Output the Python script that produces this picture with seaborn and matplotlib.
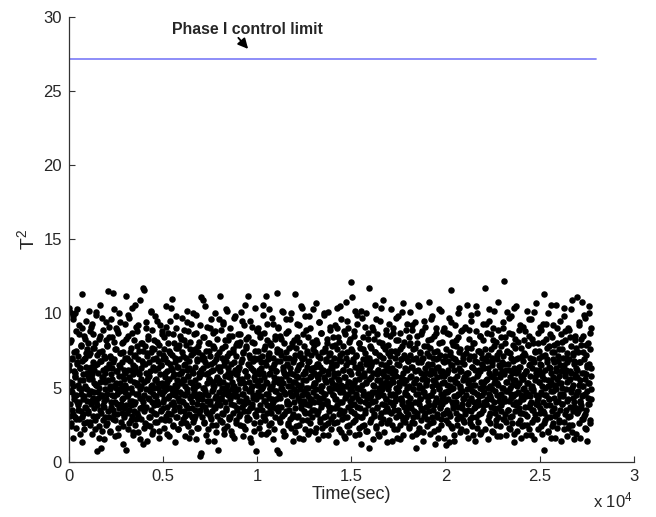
import numpy as np
import pandas as pd
import matplotlib
matplotlib.use("Agg")
import matplotlib.pyplot as plt
import seaborn as sns

# T^2 statistic, in time order
# (two interleaved sample streams over the same time span)
t2_stream_a = [
    10.4, 6.2, 3.1, 10.1, 5.4, 8.2, 2.6, 4.7, 6.9, 3.5, 9.8, 5.1, 1.6, 7.4, 4.2, 6.0, 3.0, 5.7, 8.8, 4.5, 2.3, 6.6, 10.3, 3.8, 5.2, 7.1, 4.0, 9.2, 2.9, 6.3, 5.5, 3.4, 7.8, 4.9, 11.3, 1.3, 6.8, 3.2, 5.9, 8.5, 4.4, 2.2, 7.0, 5.0, 3.7, 9.5, 6.4, 4.1, 2.7, 7.6,
    5.8, 3.3, 8.0, 4.6, 10.2, 6.1, 2.5, 7.3, 4.8, 3.9, 9.1, 5.6, 1.9, 6.7, 4.3, 8.6, 3.6, 5.3, 7.7, 2.8, 6.5, 4.0, 9.9, 5.2, 3.1, 0.7, 7.2, 4.7, 6.0, 2.4, 8.3, 5.0, 3.5, 10.6, 6.8, 0.9, 4.4, 7.5, 2.1, 5.7, 3.8, 8.9, 6.2, 4.1, 1.5, 7.0, 5.4, 3.0, 9.4, 6.3,
    4.2, 7.9, 2.6, 11.5, 5.5, 3.4, 8.4, 6.6, 4.9, 2.0, 7.1, 5.9, 3.7, 9.6, 4.5, 6.3, 11.4, 2.9, 5.1, 8.1, 3.2, 6.9, 4.0, 1.7, 7.6, 5.3, 9.0, 3.9, 6.1, 4.6, 2.3, 8.7, 5.8, 3.6, 10.0, 6.4, 4.8, 7.3, 2.7, 5.0, 3.3, 8.0, 6.7, 4.3, 1.2, 7.4, 5.6, 3.0, 9.3, 6.0,
    5.2, 0.8, 11.2, 3.8, 7.0, 4.4, 2.2, 8.5, 6.2, 3.5, 5.7, 9.7, 4.1, 6.8, 2.8, 7.7, 5.0, 3.1, 10.4, 4.7, 6.5, 1.8, 8.2, 5.4, 3.9, 7.2, 4.0, 2.5, 9.1, 6.1, 5.3, 3.3, 8.8, 4.6, 6.9, 2.0, 5.9, 7.5, 3.6, 4.9, 10.9, 6.3, 2.9, 5.1, 8.0, 4.2, 11.7, 1.2, 6.6, 3.4,
    11.6, 4.5, 7.8, 2.6, 6.0, 3.7, 9.4, 5.5, 1.4, 7.1, 4.3, 8.3, 3.0, 5.8, 6.7, 2.4, 4.8, 10.1, 3.5, 7.4, 5.2, 4.0, 8.9, 6.4, 2.1, 5.0, 3.8, 7.6, 4.4, 9.8, 6.2, 3.2, 5.6, 2.7, 8.1, 4.1, 6.8, 3.9, 5.3, 7.3, 1.6, 4.7, 9.2, 5.9, 3.4, 6.5, 2.9, 8.6, 4.6, 5.1,
    3.6, 6.9, 4.2, 8.4, 2.3, 5.7, 7.0, 3.1, 10.5, 4.9, 6.1, 1.9, 5.4, 8.7, 3.3, 7.5, 4.4, 2.8, 6.6, 5.0, 9.5, 3.9, 6.3, 4.6, 11.0, 7.2, 2.5, 5.8, 4.0, 8.0, 3.5, 6.7, 5.2, 1.3, 7.7, 4.8, 9.0, 3.0, 5.5, 6.4, 2.2, 4.3, 7.9, 5.9, 3.7, 8.5, 4.7, 6.0, 2.6, 5.3,
    7.4, 4.1, 9.7, 5.6, 2.9, 6.5, 3.4, 8.2, 4.5, 5.1, 1.7, 7.0, 3.8, 10.2, 6.2, 4.9, 2.4, 5.8, 8.8, 3.2, 6.8, 4.3, 7.6, 5.4, 2.0, 9.3, 4.0, 6.1, 3.6, 5.0, 7.3, 2.7, 8.6, 4.7, 6.4, 3.1, 5.5, 9.9, 4.4, 1.5, 6.9, 3.9, 7.8, 5.2, 2.3, 4.6, 8.1, 6.0, 0.4, 3.5,
    0.6, 11.1, 5.9, 3.0, 7.2, 4.2, 10.9, 6.3, 2.6, 5.0, 8.4, 3.7, 6.7, 4.8, 1.8, 7.5, 5.3, 9.1, 3.3, 6.0, 4.5, 2.2, 8.0, 5.6, 3.9, 7.1, 4.1, 9.6, 6.6, 2.9, 5.4, 3.4, 8.7, 4.9, 6.2, 1.4, 7.7, 5.1, 3.6, 10.0, 4.4, 6.9, 2.5, 5.7, 8.3, 3.1, 0.8, 6.4, 4.7, 7.4,
    5.5, 3.8, 11.2, 6.1, 4.3, 8.9, 2.7, 7.0, 5.0, 3.2, 9.4, 4.6, 6.5, 1.9, 5.8, 7.8, 4.0, 10.3, 3.5, 6.8, 5.2, 2.4, 8.2, 4.8, 6.3, 3.0, 7.3, 5.7, 4.2, 9.0, 2.1, 6.0, 3.9, 8.5, 5.4, 4.5, 7.6, 3.3, 6.7, 1.6, 5.1, 9.8, 4.7, 2.8, 7.1, 5.9, 3.6, 8.0, 4.4, 6.2,
    4.9, 7.9, 3.1, 6.4, 5.3, 2.5, 8.6, 4.1, 10.1, 6.9, 3.7, 5.6, 1.7, 7.4, 4.6, 9.2, 3.4, 6.1, 5.0, 2.2, 7.7, 4.3, 8.3, 5.8, 3.0, 11.2, 6.6, 4.0, 2.9, 7.2, 5.4, 3.6, 9.5, 4.8, 6.3, 1.3, 5.1, 8.1, 3.9, 6.8, 4.5, 2.6, 7.0, 5.7, 10.4, 3.2, 6.0, 4.2, 0.7, 8.8,
    5.2, 3.5, 7.5, 4.7, 9.0, 6.2, 2.3, 5.5, 3.8, 8.4, 4.4, 6.7, 1.9, 7.1, 5.0, 10.6, 3.1, 6.0, 4.1, 8.7, 5.7, 2.8, 7.8, 11.2, 4.6, 6.5, 3.3, 5.3, 9.3, 2.0, 6.9, 4.3, 7.3, 5.9, 3.6, 4.9, 8.0, 2.6, 6.3, 5.1, 9.7, 3.9, 7.0, 4.0, 1.5, 6.6, 5.4, 3.0, 8.3, 4.8,
    6.1, 4.2, 11.4, 0.8, 7.6, 5.6, 3.4, 9.1, 0.6, 4.5, 6.8, 2.7, 8.5, 5.0, 3.7, 7.2, 4.9, 10.2, 6.4, 2.1, 5.3, 8.0, 3.2, 6.0, 4.6, 1.8, 7.4, 5.8, 9.6, 3.9, 6.6, 4.1, 2.5, 8.8, 5.5, 3.5, 7.0, 4.7, 6.3, 2.9, 10.0, 5.1, 3.0, 7.8, 4.4, 6.7, 1.4, 5.9, 8.2, 4.0,
    11.3, 5.4, 3.6, 7.7, 4.8, 2.4, 6.2, 9.3, 4.3, 5.7, 3.1, 8.1, 6.5, 1.6, 4.9, 7.3, 3.8, 10.5, 5.2, 6.9, 2.8, 4.5, 8.6, 5.9, 3.4, 7.0, 4.1, 9.8, 6.1, 2.2, 5.5, 3.9, 7.5, 4.6, 6.4, 1.9, 8.4, 5.0, 3.3, 6.8, 4.2, 9.0, 2.6, 5.8, 7.2, 4.0, 3.0, 6.3, 10.3, 5.1,
    4.7, 7.9, 3.5, 6.0, 5.3, 2.0, 10.7, 4.4, 8.2, 6.6, 3.2, 5.6, 1.5, 7.1, 4.0, 9.4, 5.9, 2.7, 6.4, 4.8, 8.7, 3.7, 7.4, 5.1, 2.3, 6.2, 4.3, 9.9, 3.0, 5.7, 7.7, 4.6, 2.5, 6.9, 5.4, 3.9, 8.0, 4.1, 1.8, 6.1, 10.1, 5.0, 3.4, 7.3, 4.9, 8.9, 2.9, 6.7, 5.5, 3.6,
    6.3, 4.5, 8.4, 3.1, 5.8, 7.0, 2.6, 9.2, 4.2, 6.6, 1.3, 5.2, 7.6, 3.8, 10.4, 4.9, 6.0, 2.2, 8.1, 5.5, 3.5, 7.2, 4.0, 9.6, 6.8, 2.9, 5.0, 3.3, 7.8, 4.7, 6.2, 1.7, 5.7, 8.6, 4.3, 3.0, 6.5, 10.8, 5.1, 2.4, 7.4, 4.6, 9.0, 3.7, 6.1, 5.4, 2.0, 8.3, 4.1, 12.1,
    5.9, 3.4, 7.5, 11.1, 4.8, 6.7, 2.7, 8.8, 5.3, 3.9, 10.2, 6.4, 1.8, 4.4, 7.1, 5.0, 9.3, 3.1, 6.0, 4.2, 2.3, 8.0, 5.6, 3.6, 7.7, 4.9, 6.3, 1.2, 9.7, 5.2, 3.0, 6.9, 4.5, 8.4, 2.5, 5.8, 7.3, 4.0, 3.3, 6.6, 10.0, 5.4, 2.1, 7.0, 4.6, 8.7, 3.8, 11.7, 0.9, 6.2,
    4.3, 7.8, 5.7, 2.9, 6.5, 3.5, 9.1, 4.7, 1.5, 6.0, 8.3, 3.2, 5.1, 7.4, 4.1, 10.6, 2.4, 6.8, 5.5, 3.7, 8.6, 4.4, 6.2, 1.9, 7.2, 5.0, 3.0, 9.5, 4.8, 6.6, 2.6, 5.3, 8.0, 3.9, 7.0, 4.5, 10.9, 6.1, 2.0, 5.8, 3.4, 7.6, 4.2, 8.9, 5.4, 1.3, 6.4, 3.6, 7.9, 4.9,
    6.7, 2.8, 5.2, 8.5, 4.0, 7.1, 3.3, 10.3, 5.6, 1.4, 6.3, 4.6, 9.0, 3.8, 5.9, 2.2, 7.5, 4.4, 6.1, 8.2, 3.0, 5.0, 1.6, 7.3, 4.8, 9.8, 3.5, 6.5, 5.4, 2.5, 8.7, 4.2, 6.9, 3.1, 5.7, 7.8, 4.1, 1.8, 10.7, 6.0, 3.7, 5.3, 8.1, 2.7, 4.7, 7.0, 5.5, 3.4, 9.3, 6.2,
    4.5, 6.8, 3.2, 8.4, 5.1, 2.3, 7.2, 4.3, 10.1, 5.8, 3.6, 6.4, 1.7, 8.9, 4.9, 7.6, 3.0, 5.4, 2.6, 6.1, 9.4, 4.0, 0.9, 7.0, 5.6, 3.3, 8.0, 4.6, 6.7, 2.0, 5.2, 10.5, 3.9, 7.4, 4.2, 6.0, 2.8, 8.6, 5.0, 3.5, 6.9, 4.7, 1.4, 7.8, 5.7, 3.1, 9.1, 4.4, 6.3, 5.3,
    3.7, 7.3, 5.5, 2.4, 8.2, 4.1, 6.6, 10.8, 3.4, 5.9, 1.9, 7.7, 4.5, 6.2, 9.6, 3.0, 5.1, 7.0, 2.7, 4.8, 8.5, 6.0, 3.8, 5.4, 1.2, 6.9, 4.3, 9.0, 3.2, 7.5, 5.7, 2.2, 6.4, 4.0, 8.0, 5.0, 3.6, 7.2, 4.6, 10.2, 2.9, 6.1, 5.3, 3.9, 8.8, 4.4, 1.6, 6.7, 5.8, 3.3,
    7.1, 4.7, 1.1, 6.0, 3.5, 8.7, 5.2, 2.6, 6.8, 4.2, 9.7, 1.3, 5.6, 7.4, 3.1, 11.6, 4.9, 6.5, 2.3, 8.1, 5.0, 3.8, 7.0, 4.4, 6.2, 1.8, 9.2, 5.4, 3.3, 7.8, 4.0, 6.7, 2.5, 5.8, 8.4, 3.7, 4.6, 10.4, 6.3, 2.0, 5.1, 7.6, 3.0, 6.1, 4.8, 8.9, 3.6, 5.5, 2.8, 7.2,
    4.3, 6.6, 3.2, 9.0, 5.7, 2.1, 7.3, 4.5, 10.6, 6.0, 3.9, 5.3, 1.6, 8.3, 4.1, 6.9, 2.9, 5.0, 7.7, 3.4, 9.5, 4.8, 6.4, 2.4, 5.6, 8.0, 3.6, 7.1, 4.0, 1.4, 6.2, 5.2, 8.8, 3.0, 4.6, 10.0, 6.7, 2.7, 5.9, 3.8, 7.5, 4.4, 6.1, 1.9, 8.5, 5.4, 3.3, 7.0, 4.9, 6.5,
    5.1, 3.5, 8.2, 4.7, 6.3, 2.2, 7.6, 11.7, 5.5, 3.9, 9.3, 4.2, 6.8, 1.5, 5.0, 7.2, 3.1, 10.3, 6.0, 4.4, 2.6, 8.6, 5.8, 3.7, 7.0, 4.9, 6.5, 2.0, 9.0, 5.3, 4.0, 7.8, 3.3, 6.1, 5.6, 2.8, 8.1, 4.5, 6.9, 1.7, 5.2, 10.8, 3.6, 7.4, 4.1, 6.4, 2.4, 5.7, 8.4, 4.6,
    3.8, 6.7, 5.0, 9.4, 2.9, 7.1, 12.2, 4.3, 5.9, 3.2, 8.0, 6.2, 1.8, 4.8, 7.5, 5.4, 10.1, 3.5, 6.6, 2.3, 8.7, 4.1, 5.7, 3.0, 7.3, 4.6, 9.8, 6.0, 2.6, 5.2, 3.9, 7.9, 4.4, 6.3, 1.3, 8.3, 5.5, 3.4, 6.9, 4.0, 10.5, 5.1, 2.1, 7.0, 4.7, 6.1, 3.6, 8.9, 5.3, 2.8,
    6.4, 4.2, 7.7, 1.6, 5.6, 3.3, 9.1, 4.9, 6.8, 2.5, 5.0, 8.2, 3.7, 7.2, 4.4, 1.8, 6.1, 10.2, 5.3, 3.1, 7.9, 4.6, 6.5, 2.2, 8.5, 5.8, 3.9, 7.0, 4.0, 9.6, 2.7, 6.3, 5.1, 3.5, 8.0, 4.8, 6.7, 1.5, 5.5, 7.4, 3.2, 4.5, 10.7, 6.0, 2.9, 5.9, 3.8, 8.7, 4.3, 6.2,
    5.4, 7.5, 3.6, 6.6, 2.4, 8.9, 4.7, 5.8, 1.9, 7.1, 4.0, 9.3, 3.3, 11.3, 0.8, 6.2, 5.0, 2.8, 8.3, 4.5, 6.9, 3.0, 7.7, 5.5, 2.1, 10.0, 4.2, 6.4, 3.8, 5.2, 8.6, 1.6, 6.0, 4.8, 7.4, 3.4, 5.7, 9.2, 2.6, 6.7, 4.3, 7.9, 3.1, 5.1, 10.6, 4.9, 6.3, 2.3, 8.0, 5.6,
    4.1, 6.8, 2.7, 7.6, 5.3, 3.5, 9.5, 4.6, 6.1, 1.4, 8.1, 5.0, 3.9, 7.0, 4.4, 10.4, 6.5, 2.2, 5.8, 3.2, 8.8, 4.9, 6.2, 1.7, 7.3, 5.4, 3.0, 9.0, 4.2, 6.9, 2.5, 5.6, 8.4, 3.7, 4.7, 7.8, 6.0, 2.0, 10.9, 5.2, 3.4, 7.2, 4.0, 6.6, 1.5, 5.9, 8.2, 3.6, 4.5, 6.3,
    5.7, 3.3, 11.1, 7.4, 4.8, 2.6, 6.7, 9.2, 4.1, 5.5, 1.6, 7.9, 3.8, 10.8, 6.0, 4.4, 2.9, 8.5, 5.1, 3.1, 6.9, 4.6, 9.7, 2.3, 5.9, 7.2, 3.5, 6.4, 1.4, 4.3, 8.0, 5.3, 10.5, 3.9, 6.6, 2.8, 7.6, 4.9, 5.8, 9.0,
]
t2_stream_b = [
    6.5, 3.9, 8.1, 4.8, 2.4, 7.0, 5.3, 9.6, 3.2, 6.1, 4.4, 10.0, 5.8, 2.9, 7.5, 4.0, 6.7, 3.5, 8.6, 5.0, 1.9, 6.3, 4.6, 7.9, 3.0, 9.0, 5.5, 4.2, 6.9, 2.6, 8.3, 5.1, 3.6, 7.3, 4.9, 6.0,
    3.4, 7.2, 5.6, 8.8, 2.7, 6.4, 4.1, 9.3, 5.9, 3.1, 7.7, 4.7, 6.2, 2.2, 8.0, 5.2, 10.1, 3.8, 6.6, 4.3, 7.4, 1.6, 5.4, 8.5, 3.3, 6.8, 4.5, 9.7, 2.8, 5.7, 7.1, 3.7, 6.0, 4.9, 8.2, 2.5,
    7.8, 4.6, 6.3, 3.0, 9.1, 5.1, 2.1, 7.0, 4.0, 8.4, 5.6, 3.5, 6.7, 10.3, 4.4, 2.8, 7.6, 5.0, 6.1, 3.2, 8.9, 4.8, 1.8, 6.5, 5.3, 9.4, 3.9, 7.3, 4.2, 5.8, 2.4, 8.1, 6.2, 3.6, 7.0, 4.7,
    5.0, 8.3, 3.3, 6.9, 4.5, 9.9, 2.6, 7.4, 5.5, 3.8, 6.2, 4.1, 8.7, 2.0, 5.9, 7.1, 3.4, 10.6, 6.4, 4.6, 2.9, 7.8, 5.2, 3.1, 9.2, 6.0, 4.3, 1.5, 8.0, 5.6, 3.7, 6.8, 4.0, 7.5, 2.3, 5.4,
    6.6, 3.6, 9.0, 4.9, 7.3, 2.5, 5.7, 8.5, 4.2, 6.1, 3.0, 10.2, 5.1, 7.7, 1.9, 4.6, 6.9, 3.3, 8.2, 5.5, 2.7, 7.0, 4.4, 9.5, 3.9, 6.3, 5.0, 2.1, 7.9, 4.7, 6.5, 3.5, 8.8, 5.3, 4.0, 7.2,
    4.8, 7.6, 2.8, 6.0, 5.2, 9.1, 3.7, 6.7, 4.3, 8.0, 1.7, 5.6, 7.3, 3.2, 10.4, 4.9, 6.2, 2.4, 8.6, 5.9, 3.8, 7.0, 4.5, 9.8, 3.0, 6.4, 5.1, 2.2, 7.7, 4.1, 6.9, 3.4, 8.3, 5.4, 4.6, 6.1,
    7.1, 4.0, 8.9, 5.5, 3.1, 6.6, 2.6, 7.9, 4.7, 9.4, 5.8, 3.6, 6.3, 1.6, 8.1, 4.4, 7.2, 3.0, 5.3, 10.0, 6.0, 2.9, 4.9, 7.6, 3.5, 8.7, 5.1, 6.8, 2.3, 4.2, 7.4, 5.7, 3.3, 9.2, 6.2, 4.5,
    3.8, 6.9, 5.0, 8.4, 2.7, 7.0, 4.6, 10.5, 5.9, 3.4, 6.5, 4.1, 8.0, 1.4, 5.6, 7.5, 3.1, 9.0, 6.1, 4.8, 2.5, 7.8, 5.2, 3.7, 6.7, 4.3, 8.8, 2.0, 5.5, 7.2, 3.9, 6.3, 4.0, 9.6, 5.3, 2.8,
    6.4, 4.2, 7.7, 3.3, 9.3, 5.4, 2.2, 6.8, 4.7, 8.2, 5.0, 3.6, 7.1, 10.2, 4.5, 6.0, 2.9, 8.5, 5.7, 3.0, 6.6, 4.9, 1.8, 7.4, 5.1, 9.7, 3.8, 6.2, 4.4, 7.9, 2.6, 5.9, 3.5, 8.6, 6.3, 4.1,
    5.6, 8.1, 3.2, 6.7, 4.6, 9.5, 2.4, 7.3, 5.3, 3.9, 6.1, 10.6, 4.0, 7.8, 2.8, 5.8, 8.4, 3.4, 6.5, 4.8, 1.6, 7.0, 5.0, 9.1, 3.7, 6.2, 4.3, 8.0, 2.1, 5.5, 7.5, 3.1, 6.9, 4.5, 8.9, 5.2,
    4.4, 7.0, 5.9, 2.7, 8.6, 4.9, 6.3, 3.5, 9.9, 5.1, 3.0, 7.6, 4.1, 6.7, 1.9, 5.4, 8.2, 3.8, 7.2, 4.6, 10.3, 2.5, 6.0, 5.0, 3.3, 7.9, 4.2, 9.3, 6.4, 2.2, 5.7, 8.5, 3.6, 6.1, 4.8, 7.4,
    6.8, 3.7, 9.0, 5.3, 2.9, 7.5, 4.3, 8.3, 5.6, 3.1, 6.2, 10.1, 4.7, 1.7, 7.0, 5.9, 3.4, 8.7, 4.0, 6.5, 2.6, 5.1, 7.7, 3.9, 9.6, 6.0, 4.5, 2.3, 8.0, 5.4, 3.2, 6.9, 4.9, 7.2, 2.0, 5.8,
    4.6, 8.4, 3.0, 6.3, 5.2, 9.2, 2.5, 7.1, 4.1, 6.6, 3.6, 10.4, 5.5, 1.5, 7.8, 4.8, 6.0, 3.3, 8.9, 5.0, 2.8, 7.3, 4.4, 6.7, 3.8, 9.8, 5.7, 2.1, 6.2, 4.2, 8.1, 3.5, 7.6, 5.3, 4.0, 6.4,
    7.4, 4.9, 2.3, 8.0, 5.8, 3.4, 6.6, 9.4, 4.3, 7.0, 2.9, 5.1, 8.7, 3.9, 6.1, 1.8, 10.0, 4.6, 7.5, 5.5, 3.1, 6.8, 4.0, 8.3, 2.6, 5.9, 7.2, 3.7, 9.1, 4.8, 6.4, 2.2, 5.3, 7.8, 4.5, 6.0,
    5.0, 7.9, 3.6, 6.5, 4.2, 9.0, 2.7, 5.6, 8.4, 3.2, 6.9, 4.7, 10.5, 5.2, 2.0, 7.3, 4.0, 6.2, 3.4, 8.8, 5.7, 1.6, 7.0, 4.4, 9.5, 3.0, 6.7, 5.4, 2.5, 8.1, 4.9, 6.1, 3.8, 7.6, 5.1, 4.3,
    6.9, 3.3, 8.5, 5.5, 2.8, 7.2, 4.6, 9.9, 3.7, 6.3, 5.0, 1.9, 8.0, 4.1, 6.6, 3.0, 10.2, 5.8, 2.4, 7.6, 4.8, 6.0, 3.5, 9.1, 5.3, 2.1, 6.8, 4.3, 8.3, 3.9, 7.0, 5.6, 2.7, 6.4, 4.5, 7.7,
    4.0, 6.7, 5.2, 8.9, 3.1, 7.4, 4.7, 2.3, 9.6, 5.9, 3.6, 6.2, 4.4, 8.1, 1.7, 5.5, 7.1, 3.3, 10.4, 6.0, 4.9, 2.9, 7.8, 5.1, 3.8, 6.5, 4.2, 8.6, 2.6, 5.7, 7.3, 3.4, 6.1, 9.3, 4.6, 5.3,
    7.5, 4.5, 6.0, 2.5, 8.7, 5.4, 3.5, 7.0, 4.1, 9.7, 5.8, 2.2, 6.6, 4.8, 8.2, 3.2, 5.1, 1.5, 7.6, 4.3, 6.9, 3.9, 10.1, 5.6, 2.8, 7.2, 4.6, 6.3, 3.0, 8.9, 5.0, 3.7, 6.8, 4.0, 7.9, 2.4,
    5.7, 8.0, 3.9, 6.4, 2.7, 9.2, 4.9, 6.9, 3.4, 5.3, 7.7, 1.9, 4.6, 8.5, 3.1, 6.2, 10.6, 5.0, 2.3, 7.3, 4.2, 6.7, 3.6, 8.8, 5.6, 2.0, 7.0, 4.7, 9.5, 3.3, 6.0, 5.2, 2.9, 7.8, 4.4, 6.5,
    3.8, 7.1, 5.9, 2.6, 8.3, 4.5, 6.6, 9.8, 3.5, 5.5, 2.1, 7.4, 4.0, 6.3, 8.7, 3.0, 5.2, 1.6, 7.0, 4.9, 10.3, 6.1, 3.7, 5.8, 2.5, 8.1, 4.3, 6.8, 3.2, 9.0, 5.4, 4.1, 7.6, 2.8, 6.0, 4.7,
    6.2, 4.8, 8.6, 3.3, 7.2, 5.1, 2.4, 9.4, 4.0, 6.5, 3.6, 7.9, 5.6, 1.4, 6.9, 4.4, 8.2, 2.9, 5.3, 10.0, 4.6, 7.4, 3.1, 6.1, 5.0, 2.2, 8.8, 3.9, 6.7, 4.2, 7.0, 2.7, 5.7, 9.1, 3.4, 5.9,
    4.9, 7.7, 3.5, 6.0, 5.5, 8.9, 2.6, 7.1, 4.3, 9.9, 3.0, 6.4, 5.2, 1.8, 8.0, 4.7, 6.8, 3.7, 10.5, 5.8, 2.3, 7.5, 4.1, 6.2, 3.2, 8.5, 5.0, 2.0, 7.3, 4.5, 6.6, 3.8, 9.3, 5.4, 4.0, 6.9,
    7.0, 3.9, 5.6, 8.7, 2.8, 6.3, 4.6, 9.5, 5.1, 3.3, 7.6, 4.2, 6.7, 2.1, 8.2, 5.7, 3.6, 10.2, 4.8, 6.0, 2.5, 7.2, 5.3, 3.0, 8.9, 4.4, 6.5, 1.7, 5.9, 7.8, 3.4, 6.1, 4.0, 9.0, 5.0, 2.9,
    6.6, 4.1, 8.4, 5.4, 2.7, 7.4, 4.8, 3.5, 9.7, 6.2, 5.0, 2.2, 7.0, 4.3, 8.6, 3.1, 6.8, 5.5, 1.9, 10.4, 4.6, 7.7, 3.8, 6.0, 5.2, 2.6, 8.1, 4.0, 6.4, 3.3, 9.2, 5.8, 4.5, 7.1, 2.4, 5.6,
    4.2, 7.3, 5.9, 3.2, 8.8, 4.7, 6.1, 2.5, 7.9, 5.3, 3.7, 9.6, 4.4, 6.6, 1.8, 5.0, 8.3, 3.5, 6.9, 4.9, 10.1, 2.9, 5.7, 7.5, 3.9, 6.2, 4.1, 8.0, 2.2, 5.4, 7.0, 3.3, 9.1, 4.6, 6.5, 5.1,
    6.0, 3.4, 8.1, 5.6, 2.6, 7.2, 4.5, 9.3, 3.8, 6.7, 5.1, 2.0, 7.8, 4.2, 6.3, 3.0, 10.6, 5.4, 2.4, 8.4, 4.8, 6.9, 3.6, 7.4, 5.2, 1.6, 6.1, 4.0, 9.0, 3.2, 7.1, 5.8, 2.8, 6.5, 4.4, 8.6,
    5.3, 7.6, 3.9, 6.4, 4.6, 9.8, 2.7, 5.9, 8.2, 3.5, 7.0, 4.1, 6.7, 2.3, 5.5, 8.9, 3.1, 6.1, 4.9, 10.3, 5.0, 2.5, 7.3, 4.3, 6.8, 3.7, 8.5, 5.7, 1.9, 7.7, 4.7, 6.2, 3.4, 9.4, 5.2, 4.0,
    6.7, 3.6, 8.3, 5.1, 2.9, 7.4, 4.5, 9.9, 6.0, 3.2, 5.6, 2.2, 7.9, 4.8, 6.5, 3.9, 10.0, 5.3, 2.6, 8.7, 4.2, 6.3,
]
first_time = 0
last_time = 27750  # seconds, last sample
control_limit = 27.2
limit_end = 28000

df = pd.DataFrame({
    "time": np.concatenate([
        np.linspace(first_time, last_time, len(t2_stream_a)),
        np.linspace(first_time + 10, last_time - 10, len(t2_stream_b)),
    ]),
    "t2": t2_stream_a + t2_stream_b,
})

sns.set_style("white")
plt.rcParams["font.family"] = ["Liberation Sans", "DejaVu Sans"]
plt.rcParams["mathtext.default"] = "regular"

fig = plt.figure(figsize=(6.56, 5.17), dpi=100)
ax = fig.add_axes([0.105, 0.107, 0.861, 0.860])

sns.scatterplot(data=df, x="time", y="t2", ax=ax, color="black",
                s=22, edgecolor="black", linewidth=0, legend=False)
ax.plot([first_time, limit_end], [control_limit, control_limit],
        color="#8585f8", lw=1.3)

# label + short diagonal arrow pointing at the limit line
ax.text(9480, 29.15, "Phase I control limit", ha="center", va="center",
        fontsize=11.4, fontweight="bold")
ax.annotate("", xy=(9520, 27.85), xytext=(9000, 28.6),
            arrowprops=dict(arrowstyle="-|>,head_width=0.3,head_length=0.6",
                            color="black", lw=1.3, shrinkA=0, shrinkB=0))

ax.set_xlim(0, 30000)
ax.set_ylim(0, 30)
ax.set_xticks(np.arange(0, 30001, 5000))
ax.set_xticklabels(["0", "0.5", "1", "1.5", "2", "2.5", "3"])
ax.set_yticks(np.arange(0, 31, 5))
ax.tick_params(bottom=True, left=True, direction="in", length=4, width=0.8,
               color="#333333", labelsize=12, pad=5)
sns.despine(ax=ax)
for side in ["left", "bottom"]:
    ax.spines[side].set_color("#333333")
    ax.spines[side].set_linewidth(0.9)

ax.set_xlabel("Time(sec)", fontsize=13, labelpad=2)
ax.set_ylabel("T$^{2}$", fontsize=14, labelpad=4)
ax.text(0.998, -0.064, "x 10$^{4}$", transform=ax.transAxes,
        ha="right", va="top", fontsize=12)

fig.savefig("out.png", dpi=100)
